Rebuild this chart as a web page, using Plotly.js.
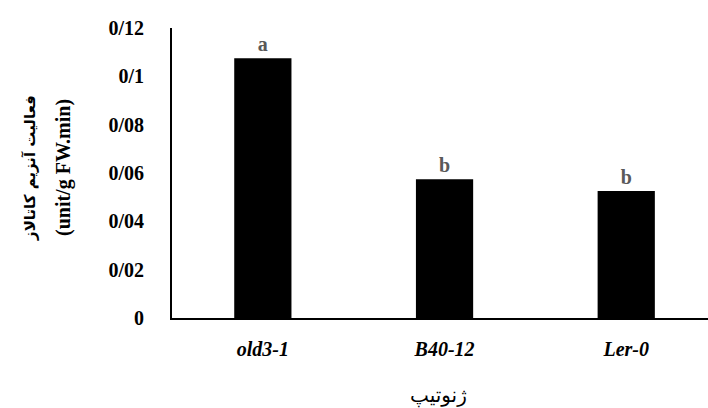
<!DOCTYPE html>
<html>
<head>
<meta charset="utf-8">
<script src="https://cdn.plot.ly/plotly-3.0.1.min.js"></script>
<style>html,body{margin:0;padding:0;background:#fff;}#chart{width:708px;height:408px;}</style>
</head>
<body>
<div id="chart"></div>
<script>
const genotypes = ['old3-1', 'B40-12', 'Ler-0'];
const catalase = [0.1075, 0.0574, 0.0526];
const letters = ['a', 'b', 'b'];
const yTickVals = [0, 0.02, 0.04, 0.06, 0.08, 0.1, 0.12];
const yTickText = ['0', '0/02', '0/04', '0/06', '0/08', '0/1', '0/12'];
const yTitleFa = 'فعالیت آنزیم کاتالاز';
const yTitleUnit = '(unit/g FW.min)';
const xTitle = 'ژنوتیپ';

const SERIF = '"Liberation Serif", "Times New Roman", serif';
const FA = '"DejaVu Serif", "DejaVu Sans", serif';

const trace = {
  type: 'bar',
  x: genotypes,
  y: catalase,
  width: 0.315,
  marker: {color: '#000000'},
  text: letters.map(l => '<b>' + l + '</b>'),
  textposition: 'outside',
  cliponaxis: false,
  textfont: {family: SERIF, size: 20, color: '#595959'},
  hoverinfo: 'none'
};

const layout = {
  width: 708, height: 408,
  margin: {l: 172, r: 0, t: 28, b: 90},
  paper_bgcolor: '#fff', plot_bgcolor: '#fff',
  showlegend: false,
  font: {family: SERIF, color: '#000'},
  xaxis: {
    range: [-0.5, 2.45],
    showline: true, linecolor: '#000', linewidth: 2,
    showgrid: false, zeroline: false, ticks: '',
    tickvals: [0, 1, 2],
    ticktext: genotypes.map(g => '<b><i>' + g + '</i></b>'),
    tickfont: {family: SERIF, size: 20, color: '#000'},
    ticklabelstandoff: 12
  },
  yaxis: {
    range: [0, 0.12],
    showline: true, linecolor: '#000', linewidth: 2,
    showgrid: false, zeroline: false, ticks: '',
    tickvals: yTickVals,
    ticktext: yTickText.map(t => '<b>' + t + '</b>'),
    tickfont: {family: SERIF, size: 20, color: '#000'},
    ticklabelstandoff: 22
  },
  annotations: [
    {xref: 'paper', yref: 'paper', x: (30 - 172) / 536, y: (318 - 168) / 290,
     text: '<b>' + yTitleFa + '</b>', textangle: -90, showarrow: false,
     font: {family: FA, size: 15, color: '#000'}, xanchor: 'center', yanchor: 'middle'},
    {xref: 'paper', yref: 'paper', x: (63 - 172) / 536, y: (318 - 168) / 290,
     text: '<b>' + yTitleUnit + '</b>', textangle: -90, showarrow: false,
     font: {family: SERIF, size: 20, color: '#000'}, xanchor: 'center', yanchor: 'middle'},
    {xref: 'paper', yref: 'paper', x: (438 - 172) / 536, y: -(396 - 318) / 290,
     text: xTitle, showarrow: false,
     font: {family: FA, size: 20, color: '#000'}, xanchor: 'center', yanchor: 'middle'}
  ]
};

Plotly.newPlot('chart', [trace], layout, {displayModeBar: false, staticPlot: true});
</script>
</body>
</html>
